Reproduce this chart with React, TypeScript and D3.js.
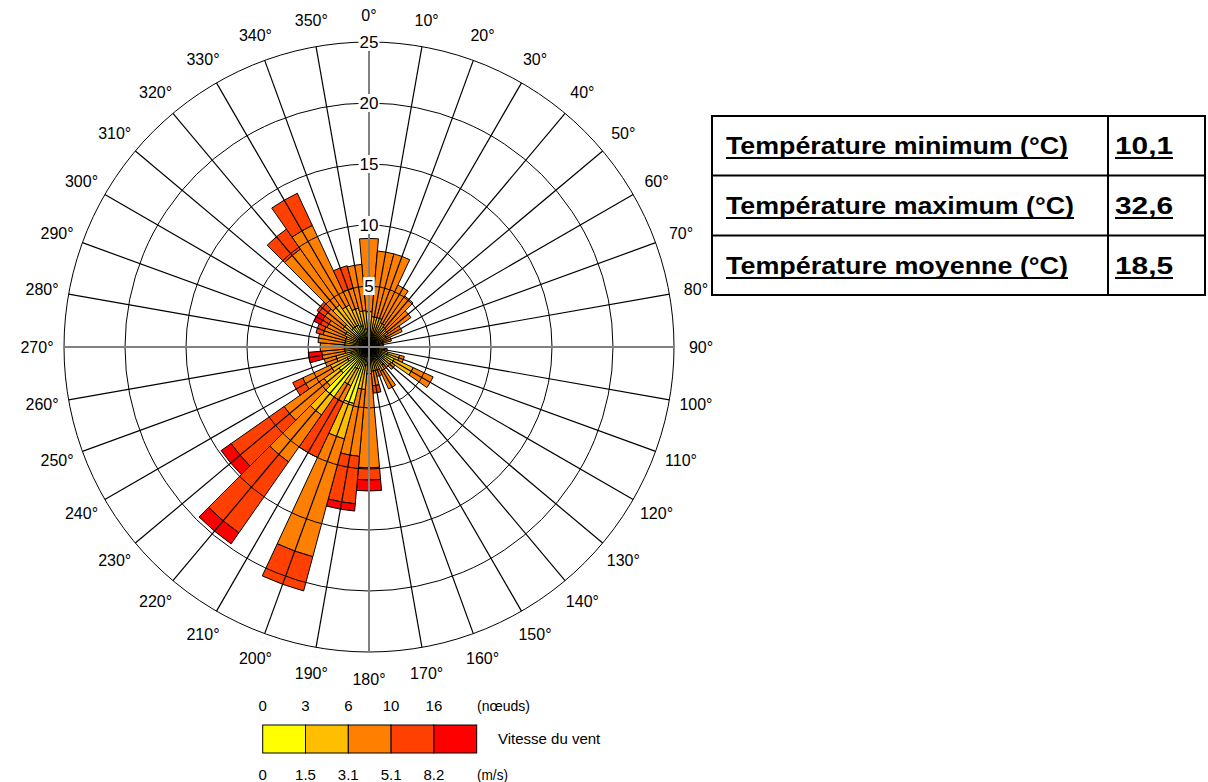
import React from 'react';
import * as d3 from 'd3';

// Wind directions (degrees)
const directions = [0, 10, 20, 30, 40, 50, 60, 70, 80, 90, 100, 110, 120, 130, 140, 150, 160, 170,
  180, 190, 200, 210, 220, 230, 240, 250, 260, 270, 280, 290, 300, 310, 320, 330, 340, 350];

// Frequency (%) per speed class for each direction
const speed0to15 = [1.2, 1.0, 1.0, 0.9, 0.8, 0.8, 0.7, 0.6, 0.5, 0.4, 0.8, 1.6, 2.3, 1.2, 1.0, 1.2, 1.0, 1.0,
  1.0, 1.5, 4.8, 2.0, 5.0, 3.0, 2.0, 1.5, 0.8, 0.8, 0.8, 0.8, 0.9, 1.0, 2.0, 2.0, 1.8, 1.5];
const speed15to31 = [1.7, 1.5, 1.5, 1.3, 1.2, 1.1, 0.9, 0.6, 0.4, 0.3, 0.5, 1.0, 1.7, 1.0, 0.8, 1.0, 1.0, 1.0,
  1.2, 2.0, 3.0, 1.5, 1.8, 1.5, 1.5, 1.3, 1.2, 1.2, 1.2, 1.2, 1.3, 1.6, 2.2, 1.8, 1.5, 1.5];
const speed31to51 = [6.0, 5.4, 5.4, 3.4, 3.1, 2.3, 1.4, 0.7, 0.3, 0.1, 0.2, 0.4, 1.8, 0.4, 0.4, 1.6, 0.5, 1.2,
  7.7, 5.5, 10.0, 1.5, 4.7, 4.0, 2.5, 1.0, 1.9, 2.0, 2.2, 1.9, 1.6, 1.8, 5.6, 7.2, 1.7, 3.8];
const speed51to82 = [0, 0, 0, 0, 0, 0, 0, 0, 0, 0, 0, 0, 0, 0, 0, 0, 0, 0.6,
  1.0, 3.9, 2.9, 5.0, 7.1, 5.3, 0.9, 0, 0, 0, 0, 0.6, 0.6, 0.8, 2.0, 2.9, 1.9, 0];
const speedAbove82 = [0, 0, 0, 0, 0, 0, 0, 0, 0, 0, 0, 0, 0, 0, 0, 0, 0, 0,
  0.9, 0.6, 0, 0, 1.1, 1.0, 0, 0, 1.1, 0, 0, 0, 0.6, 0, 0, 0, 0, 0];

const speedColors = ['#ffff00', '#ffbf00', '#ff8000', '#ff4000', '#ff0000'];
const knotTicks = ['0', '3', '6', '10', '16'];
const msTicks = ['0', '1.5', '3.1', '5.1', '8.2'];
const ringTicks = [5, 10, 15, 20, 25];

const tableLabels = ['Température minimum (°C)', 'Température maximum (°C)', 'Température moyenne (°C)'];
const tableValues = ['10,1', '32,6', '18,5'];

const FONT = '"Liberation Sans", Arial, sans-serif';

export default function App() {
  const cx = 369, cy = 347;
  const r = d3.scaleLinear().domain([0, 25]).range([0, 305]);
  const series = [speed0to15, speed15to31, speed31to51, speed51to82, speedAbove82];
  const arc = d3.arc<any>();
  const rad = (d: number) => (d * Math.PI) / 180;

  const segments: { path: string; color: string; key: string }[] = [];
  directions.forEach((dir, i) => {
    let cum = 0;
    series.forEach((s, k) => {
      const v = s[i];
      if (v > 0) {
        const p = arc({
          innerRadius: r(cum),
          outerRadius: r(cum + v),
          startAngle: rad(dir - 5),
          endAngle: rad(dir + 5),
        }) as string;
        segments.push({ path: p, color: speedColors[k], key: `${dir}-${k}` });
      }
      cum += v;
    });
  });

  const R = r(25);
  const labelR = 332;

  // legend
  const legX = d3.scaleLinear().domain([0, 5]).range([262.7, 476.7]);

  const tableTextLen = [342, 348, 342];

  return (
    <svg width={1208} height={782} style={{ position: 'absolute', left: 0, top: 0 }} fontFamily={FONT}>
      <rect x={0} y={0} width={1208} height={782} fill="#fff" />
      <g transform={`translate(${cx},${cy})`}>
        {segments.map((s) => (
          <path key={s.key} d={s.path} fill={s.color} stroke="#000" strokeWidth={1} />
        ))}
        {ringTicks.map((t) => (
          <circle key={t} r={r(t)} fill="none" stroke="#000" strokeWidth={1} />
        ))}
        {directions.filter((d) => d % 90 !== 0).map((d) => (
          <line key={d} x1={0} y1={0} x2={R * Math.sin(rad(d))} y2={-R * Math.cos(rad(d))}
            stroke="#000" strokeWidth={1.2} />
        ))}
        <line x1={0} y1={-R} x2={0} y2={R} stroke="#808080" strokeWidth={2} />
        <line x1={-R} y1={0} x2={R} y2={0} stroke="#808080" strokeWidth={2} />
        {ringTicks.map((t) => {
          const w = String(t).length * 9.5 + 2;
          return (
            <g key={t} transform={`translate(0,${-r(t)})`}>
              <rect x={-w / 2} y={-9} width={w} height={18} fill="#fff" />
              <text textAnchor="middle" dominantBaseline="central" fontSize={17} fill="#000">{t}</text>
            </g>
          );
        })}
        {directions.map((d) => (
          <text key={d} x={labelR * Math.sin(rad(d))} y={-labelR * Math.cos(rad(d))}
            textAnchor="middle" dominantBaseline="central" fontSize={16} fill="#000">{`${d}°`}</text>
        ))}
      </g>

      {/* Legend */}
      {speedColors.map((c, i) => (
        <rect key={c} x={legX(i)} y={725} width={legX(i + 1) - legX(i)} height={28}
          fill={c} stroke="#000" strokeWidth={1} />
      ))}
      {knotTicks.map((t, i) => (
        <text key={'k' + t} x={legX(i)} y={710.5} textAnchor="middle" fontSize={15}>{t}</text>
      ))}
      {msTicks.map((t, i) => (
        <text key={'m' + t} x={legX(i)} y={780} textAnchor="middle" fontSize={15}>{t}</text>
      ))}
      <text x={477} y={710.5} fontSize={15} textLength={53} lengthAdjust="spacingAndGlyphs">(nœuds)</text>
      <text x={477} y={780} fontSize={15} textLength={31} lengthAdjust="spacingAndGlyphs">(m/s)</text>
      <text x={498} y={743.5} fontSize={15}>Vitesse du vent</text>

      {/* Table */}
      <g>
        <rect x={712} y={116} width={493} height={179} fill="none" stroke="#000" strokeWidth={2} />
        <line x1={712} y1={175.5} x2={1205} y2={175.5} stroke="#000" strokeWidth={2} />
        <line x1={712} y1={235.5} x2={1205} y2={235.5} stroke="#000" strokeWidth={2} />
        <line x1={1108} y1={116} x2={1108} y2={295} stroke="#000" strokeWidth={2} />
        {tableLabels.map((t, i) => (
          <g key={t}>
            <text x={726} y={154 + i * 60} fontSize={23} fontWeight="bold"
              textLength={tableTextLen[i]} lengthAdjust="spacingAndGlyphs">{t}</text>
            <line x1={726} x2={726 + tableTextLen[i]} y1={158 + i * 60} y2={158 + i * 60}
              stroke="#000" strokeWidth={2} />
            <text x={1115} y={154 + i * 60} fontSize={23} fontWeight="bold"
              textLength={58} lengthAdjust="spacingAndGlyphs">{tableValues[i]}</text>
            <line x1={1115} x2={1173} y1={158 + i * 60} y2={158 + i * 60}
              stroke="#000" strokeWidth={2} />
          </g>
        ))}
      </g>
    </svg>
  );
}
